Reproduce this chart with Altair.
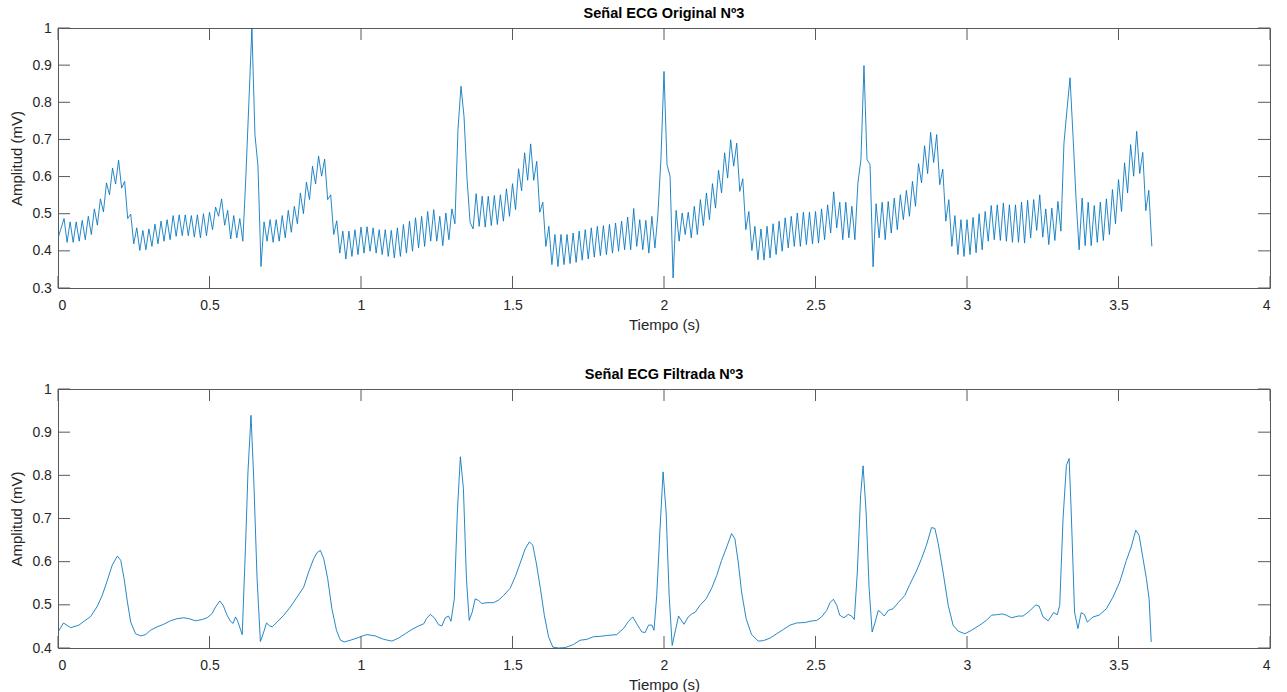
import altair as alt
import numpy as np
import pandas as pd

# Raw ECG trace, one sample every 0.01 s (mV)
FS = 100
ORIG_MV = [
    0.435, 0.460, 0.487, 0.423, 0.478, 0.423, 0.478, 0.426, 0.482, 0.430,
    0.493, 0.444, 0.513, 0.469, 0.540, 0.505, 0.583, 0.551, 0.623, 0.580,
    0.644, 0.569, 0.587, 0.487, 0.499, 0.419, 0.462, 0.401, 0.455, 0.403,
    0.459, 0.412, 0.472, 0.419, 0.480, 0.426, 0.484, 0.430, 0.495, 0.439,
    0.497, 0.441, 0.497, 0.441, 0.495, 0.437, 0.497, 0.435, 0.500, 0.441,
    0.504, 0.457, 0.518, 0.493, 0.540, 0.469, 0.509, 0.432, 0.495, 0.435,
    0.487, 0.426, 0.600, 0.800, 1.000, 0.713, 0.628, 0.358, 0.478, 0.426,
    0.484, 0.423, 0.484, 0.426, 0.495, 0.435, 0.509, 0.450, 0.520, 0.473,
    0.556, 0.500, 0.585, 0.538, 0.628, 0.580, 0.655, 0.601, 0.647, 0.538,
    0.551, 0.444, 0.481, 0.394, 0.453, 0.378, 0.453, 0.385, 0.457, 0.390,
    0.464, 0.394, 0.465, 0.399, 0.462, 0.394, 0.457, 0.390, 0.457, 0.385,
    0.455, 0.381, 0.462, 0.385, 0.471, 0.394, 0.480, 0.399, 0.489, 0.408,
    0.493, 0.412, 0.506, 0.426, 0.511, 0.426, 0.493, 0.414, 0.502, 0.430,
    0.513, 0.473, 0.726, 0.843, 0.762, 0.592, 0.477, 0.459, 0.554, 0.466,
    0.547, 0.464, 0.547, 0.468, 0.549, 0.471, 0.551, 0.480, 0.567, 0.493,
    0.581, 0.511, 0.621, 0.562, 0.664, 0.590, 0.688, 0.590, 0.641, 0.504,
    0.531, 0.412, 0.466, 0.363, 0.444, 0.358, 0.444, 0.363, 0.444, 0.366,
    0.448, 0.369, 0.453, 0.375, 0.457, 0.378, 0.462, 0.383, 0.466, 0.387,
    0.468, 0.390, 0.471, 0.394, 0.475, 0.399, 0.480, 0.403, 0.491, 0.403,
    0.514, 0.412, 0.484, 0.403, 0.482, 0.394, 0.493, 0.408, 0.500, 0.650,
    0.883, 0.632, 0.601, 0.327, 0.509, 0.426, 0.502, 0.444, 0.504, 0.435,
    0.520, 0.444, 0.538, 0.468, 0.556, 0.484, 0.581, 0.515, 0.617, 0.556,
    0.664, 0.596, 0.699, 0.628, 0.690, 0.560, 0.594, 0.457, 0.506, 0.401,
    0.466, 0.376, 0.459, 0.375, 0.466, 0.381, 0.473, 0.390, 0.480, 0.399,
    0.489, 0.408, 0.493, 0.412, 0.502, 0.412, 0.504, 0.417, 0.504, 0.419,
    0.506, 0.421, 0.513, 0.430, 0.524, 0.448, 0.559, 0.462, 0.531, 0.430,
    0.531, 0.435, 0.520, 0.430, 0.583, 0.646, 0.899, 0.646, 0.632, 0.357,
    0.527, 0.435, 0.531, 0.430, 0.533, 0.448, 0.542, 0.457, 0.551, 0.484,
    0.563, 0.493, 0.587, 0.520, 0.635, 0.583, 0.683, 0.608, 0.719, 0.638,
    0.713, 0.578, 0.620, 0.480, 0.538, 0.412, 0.495, 0.390, 0.484, 0.385,
    0.484, 0.390, 0.490, 0.395, 0.500, 0.403, 0.506, 0.426, 0.522, 0.430,
    0.524, 0.428, 0.529, 0.426, 0.524, 0.423, 0.524, 0.423, 0.531, 0.421,
    0.536, 0.435, 0.538, 0.455, 0.551, 0.437, 0.513, 0.417, 0.515, 0.428,
    0.533, 0.453, 0.690, 0.780, 0.866, 0.708, 0.538, 0.403, 0.542, 0.414,
    0.531, 0.414, 0.522, 0.423, 0.531, 0.428, 0.540, 0.444, 0.565, 0.473,
    0.592, 0.506, 0.637, 0.556, 0.686, 0.601, 0.722, 0.608, 0.665, 0.508,
    0.563, 0.412,
]

# Filtered trace: time (s) and amplitude (mV)
FILT_T = [
    0.000, 0.018, 0.042, 0.069, 0.086, 0.108, 0.130, 0.146, 0.163, 0.179,
    0.196, 0.207, 0.218, 0.229, 0.240, 0.256, 0.273, 0.289, 0.305, 0.327,
    0.349, 0.371, 0.393, 0.415, 0.432, 0.454, 0.476, 0.492, 0.509, 0.520,
    0.534, 0.545, 0.558, 0.569, 0.578, 0.586, 0.593, 0.608, 0.619, 0.627,
    0.637, 0.646, 0.657, 0.668, 0.679, 0.688, 0.699, 0.707, 0.723, 0.745,
    0.767, 0.789, 0.811, 0.827, 0.844, 0.855, 0.866, 0.877, 0.890, 0.904,
    0.919, 0.932, 0.945, 0.965, 0.987, 1.009, 1.020, 1.047, 1.075, 1.102,
    1.124, 1.146, 1.168, 1.190, 1.207, 1.216, 1.229, 1.242, 1.256, 1.267,
    1.278, 1.289, 1.297, 1.308, 1.318, 1.328, 1.338, 1.348, 1.357, 1.367,
    1.377, 1.388, 1.399, 1.416, 1.438, 1.454, 1.471, 1.492, 1.509, 1.525,
    1.542, 1.556, 1.567, 1.578, 1.592, 1.605, 1.619, 1.633, 1.652, 1.674,
    1.701, 1.723, 1.745, 1.767, 1.789, 1.811, 1.844, 1.866, 1.883, 1.897,
    1.910, 1.927, 1.938, 1.949, 1.960, 1.967, 1.976, 1.987, 1.997, 2.007,
    2.017, 2.027, 2.048, 2.066, 2.080, 2.092, 2.103, 2.119, 2.139, 2.157,
    2.174, 2.190, 2.207, 2.223, 2.234, 2.245, 2.256, 2.271, 2.289, 2.311,
    2.328, 2.350, 2.372, 2.394, 2.416, 2.438, 2.465, 2.482, 2.504, 2.520,
    2.537, 2.548, 2.559, 2.570, 2.580, 2.594, 2.608, 2.619, 2.628, 2.638,
    2.649, 2.657, 2.667, 2.677, 2.687, 2.697, 2.707, 2.717, 2.727, 2.740,
    2.756, 2.773, 2.795, 2.811, 2.833, 2.850, 2.866, 2.883, 2.894, 2.905,
    2.921, 2.938, 2.954, 2.971, 2.993, 3.015, 3.042, 3.064, 3.081, 3.097,
    3.117, 3.130, 3.147, 3.169, 3.185, 3.207, 3.227, 3.238, 3.251, 3.268,
    3.286, 3.298, 3.306, 3.317, 3.328, 3.337, 3.344, 3.355, 3.366, 3.377,
    3.388, 3.397, 3.416, 3.436, 3.460, 3.482, 3.504, 3.526, 3.542, 3.557,
    3.568, 3.581, 3.592, 3.601, 3.608,
]
FILT_MV = [
    0.437, 0.458, 0.447, 0.453, 0.462, 0.473, 0.497, 0.522, 0.557, 0.592,
    0.613, 0.603, 0.561, 0.507, 0.460, 0.433, 0.428, 0.431, 0.441, 0.449,
    0.455, 0.463, 0.468, 0.470, 0.468, 0.463, 0.466, 0.470, 0.480, 0.495,
    0.509, 0.499, 0.476, 0.462, 0.457, 0.472, 0.462, 0.431, 0.638, 0.808,
    0.939, 0.792, 0.561, 0.415, 0.437, 0.458, 0.451, 0.449, 0.460, 0.476,
    0.495, 0.518, 0.541, 0.576, 0.607, 0.621, 0.626, 0.607, 0.561, 0.491,
    0.441, 0.418, 0.414, 0.418, 0.423, 0.429, 0.431, 0.428, 0.420, 0.416,
    0.423, 0.433, 0.443, 0.451, 0.456, 0.468, 0.478, 0.470, 0.454, 0.451,
    0.470, 0.474, 0.462, 0.514, 0.715, 0.843, 0.769, 0.561, 0.464, 0.483,
    0.514, 0.510, 0.503, 0.505, 0.505, 0.511, 0.522, 0.538, 0.565, 0.596,
    0.630, 0.646, 0.638, 0.599, 0.538, 0.476, 0.426, 0.402, 0.400, 0.401,
    0.408, 0.418, 0.420, 0.426, 0.427, 0.429, 0.431, 0.445, 0.462, 0.472,
    0.456, 0.437, 0.436, 0.453, 0.453, 0.441, 0.522, 0.677, 0.808, 0.715,
    0.522, 0.406, 0.474, 0.455, 0.472, 0.479, 0.483, 0.499, 0.514, 0.538,
    0.568, 0.603, 0.634, 0.665, 0.653, 0.599, 0.530, 0.468, 0.431, 0.416,
    0.417, 0.423, 0.433, 0.443, 0.453, 0.458, 0.459, 0.462, 0.464, 0.472,
    0.487, 0.505, 0.513, 0.499, 0.476, 0.470, 0.478, 0.474, 0.466, 0.576,
    0.754, 0.822, 0.715, 0.538, 0.437, 0.460, 0.487, 0.482, 0.474, 0.487,
    0.491, 0.505, 0.522, 0.547, 0.578, 0.607, 0.638, 0.679, 0.677, 0.642,
    0.576, 0.499, 0.453, 0.439, 0.433, 0.441, 0.453, 0.464, 0.476, 0.477,
    0.479, 0.476, 0.470, 0.474, 0.474, 0.486, 0.500, 0.497, 0.472, 0.463,
    0.482, 0.477, 0.499, 0.700, 0.823, 0.839, 0.715, 0.483, 0.445, 0.482,
    0.477, 0.460, 0.472, 0.476, 0.491, 0.518, 0.553, 0.603, 0.634, 0.673,
    0.661, 0.607, 0.561, 0.514, 0.414,
]

X_TICKS = [0, 0.5, 1, 1.5, 2, 2.5, 3, 3.5, 4]
Y_TICKS_ORIG = [0.3, 0.4, 0.5, 0.6, 0.7, 0.8, 0.9, 1]
Y_TICKS_FILT = [0.4, 0.5, 0.6, 0.7, 0.8, 0.9, 1]

FONT = "Liberation Sans"
TXT = "#262626"
FRAME = "#595959"
LINE = "#0072BD"
W = 1212
TICK = 12

orig = pd.DataFrame({"t": np.arange(len(ORIG_MV)) / FS, "mv": ORIG_MV})
filt = pd.DataFrame({"t": FILT_T, "mv": FILT_MV})


def panel(df, y_domain, y_ticks, title, h):
    x_enc = alt.X(
        "t:Q",
        scale=alt.Scale(domain=[0, 4], nice=False, zero=False),
        axis=alt.Axis(
            values=X_TICKS, format="~g", title="Tiempo (s)",
            domain=False, ticks=False, grid=False,
            labelPadding=10, titlePadding=5,
            labelFont=FONT, titleFont=FONT, labelFontSize=14, titleFontSize=15,
            labelColor=TXT, titleColor=TXT, titleFontWeight="normal",
        ),
    )
    y_enc = alt.Y(
        "mv:Q",
        scale=alt.Scale(domain=y_domain, nice=False, zero=False),
        axis=alt.Axis(
            values=y_ticks, format="~g", title="Amplitud (mV)",
            domain=False, ticks=False, grid=False,
            labelPadding=6.6, titlePadding=7,
            labelFont=FONT, titleFont=FONT, labelFontSize=14, titleFontSize=15,
            labelColor=TXT, titleColor=TXT, titleFontWeight="normal",
        ),
    )

    trace = alt.Chart(df).mark_line(color=LINE, strokeWidth=0.85, clip=True).encode(
        x=x_enc, y=y_enc
    )

    xt = pd.DataFrame({"t": X_TICKS})
    yt = pd.DataFrame({"mv": y_ticks})
    tick_bottom = alt.Chart(xt).mark_rule(color=FRAME, strokeWidth=1).encode(
        x=x_enc, y=alt.value(h), y2=alt.value(h - TICK)
    )
    tick_top = alt.Chart(xt).mark_rule(color=FRAME, strokeWidth=1).encode(
        x=x_enc, y=alt.value(0), y2=alt.value(TICK)
    )
    tick_left = alt.Chart(yt).mark_rule(color=FRAME, strokeWidth=1).encode(
        y=y_enc, x=alt.value(0), x2=alt.value(TICK)
    )
    tick_right = alt.Chart(yt).mark_rule(color=FRAME, strokeWidth=1).encode(
        y=y_enc, x=alt.value(W), x2=alt.value(W - TICK)
    )

    return alt.layer(trace, tick_bottom, tick_top, tick_left, tick_right).properties(
        width=W,
        height=h,
        title=alt.TitleParams(
            text=title, font=FONT, fontSize=14.5, fontWeight="bold",
            color="#000000", anchor="middle", baseline="alphabetic", offset=-11.8,
        ),
    )


top = panel(orig, [0.3, 1], Y_TICKS_ORIG, "Señal ECG Original Nº3", 260)
bottom = panel(filt, [0.4, 1], Y_TICKS_FILT, "Señal ECG Filtrada Nº3", 259)

chart = (
    alt.vconcat(top, bottom, spacing=33)
    .properties(padding={"left": 9, "top": 5, "right": 5, "bottom": 2}, background="white")
    .configure_view(stroke=FRAME, strokeWidth=1)
)

chart.save("out.html", embed_options={"renderer": "svg", "actions": False})
